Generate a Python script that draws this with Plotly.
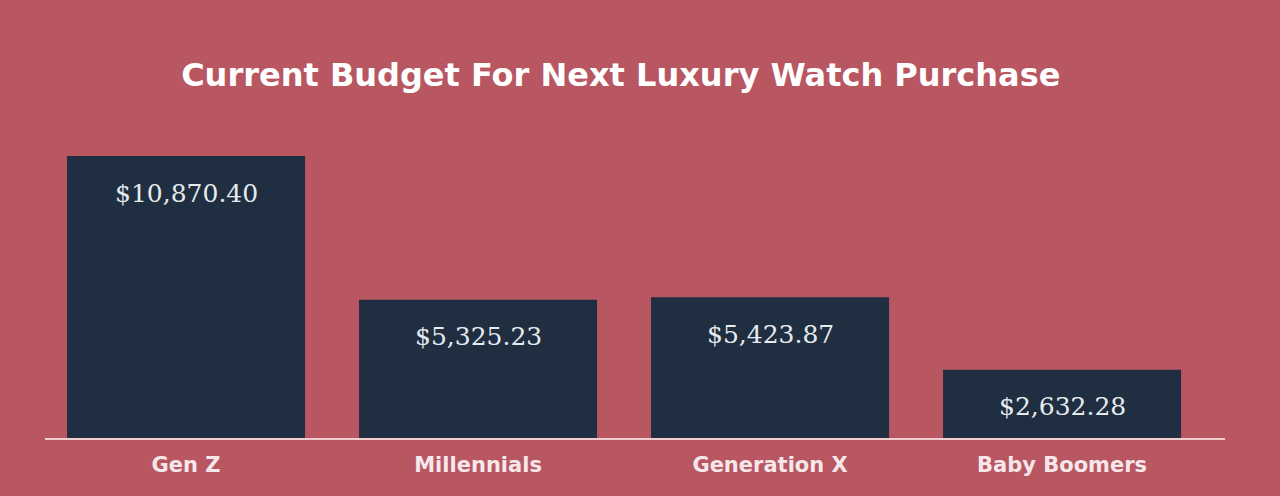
import plotly.graph_objects as go

categories = ["Gen Z", "Millennials", "Generation X", "Baby Boomers"]
budgets = [10870.40, 5325.23, 5423.87, 2632.28]
title_text = "Current Budget For Next Luxury Watch Purchase"

BG = "#B85662"
BAR = "#1F2E41"

labels = ["${:,.2f}".format(v) for v in budgets]

fig = go.Figure()
fig.add_trace(go.Bar(
    x=categories, y=budgets, marker=dict(color=BAR, line=dict(width=0)),
    width=0.815, hoverinfo="skip",
))
for c, v, t in zip(categories, budgets, labels):
    fig.add_annotation(x=c, y=v, text=t, showarrow=False, yanchor="middle",
                       yshift=-37,
                       font=dict(family="DejaVu Serif", size=25, color="#E6EAEE"))

fig.update_layout(
    width=1280, height=496,
    paper_bgcolor=BG, plot_bgcolor=BG,
    margin=dict(l=45, r=55, t=140, b=58),
    showlegend=False,
    title=dict(text=title_text, x=0.485, xanchor="center", y=0.85, yanchor="middle",
               font=dict(family="DejaVu Sans", size=32, color="#FFFFFF", weight=600)),
    bargap=0.185,
)
fig.update_xaxes(range=[-0.483, 3.558], showline=True, linecolor="#F2CFCF", linewidth=2,
                 showgrid=False, zeroline=False, ticks="", ticklabelstandoff=7,
                 tickfont=dict(family="DejaVu Sans", size=21, color="#F6E8EA", weight=600))
fig.update_yaxes(range=[0, 11487], visible=False, showgrid=False, zeroline=False)

fig.write_html("out.html", config={"displayModeBar": False},
               post_script="document.body.style.margin='0';document.body.style.background='%s';" % BG)
